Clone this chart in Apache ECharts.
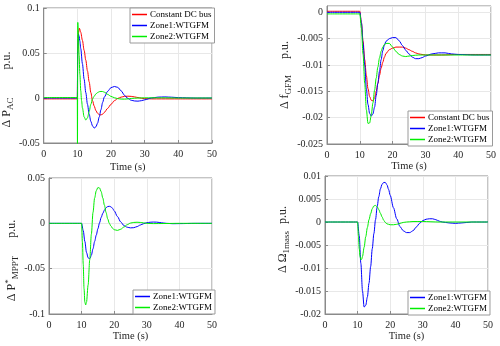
<!DOCTYPE html>
<html><head><meta charset="utf-8">
<script src="https://cdn.jsdelivr.net/npm/echarts@6/dist/echarts.min.js"></script>
<style>html,body{margin:0;padding:0;background:#fff}#c{width:500px;height:346px}</style>
</head><body><div id="c"></div>
<script>
// ---------- Data ----------
const seriesNames = ['Constant DC bus', 'Zone1:WTGFM', 'Zone2:WTGFM'];
const xTicks = [0, 10, 20, 30, 40, 50];

// Panel 1: Delta P_AC
const pacRedT = [0, 9.98, 10.1, 10.3, 10.6, 11, 11.5, 12, 12.5, 13, 13.5, 14, 14.5, 15, 15.5, 16, 16.5, 17, 17.5, 18, 19, 20, 21, 22, 23, 24, 25, 26, 27, 28, 29, 30, 32, 35, 40, 50];
const pacRedV = [-0.001, -0.001, 0.05, 0.072, 0.0775, 0.073, 0.064, 0.053, 0.042, 0.030, 0.018, 0.006, -0.003, -0.009, -0.014, -0.017, -0.0185, -0.0188, -0.018, -0.016, -0.0115, -0.007, -0.003, -0.0005, 0.001, 0.0018, 0.002, 0.0018, 0.0012, 0.0005, -0.0002, -0.0007, -0.001, -0.001, -0.001, -0.001];
const pacBlueT = [0, 9.98, 10.1, 10.3, 10.5, 10.75, 11, 11.5, 12, 12.5, 13, 13.5, 14, 14.5, 15, 15.5, 16, 16.5, 17, 17.5, 18, 19, 20, 21, 22, 23, 24, 25, 26, 27, 28, 29, 30, 32, 34, 36, 38, 40, 45, 50];
const pacBlueV = [0, 0, 0.055, 0.071, 0.069, 0.063, 0.055, 0.038, 0.021, 0.006, -0.007, -0.018, -0.026, -0.031, -0.0334, -0.032, -0.028, -0.021, -0.013, -0.005, 0.001, 0.0075, 0.0115, 0.0128, 0.0118, 0.008, 0.003, -0.0005, -0.0025, -0.0033, -0.0035, -0.003, -0.002, 0, 0.001, 0.0012, 0.0009, 0.0004, 0, 0];
const pacGreenT = [0, 9.98, 10.02, 10.12, 10.3, 10.5, 10.75, 11, 11.25, 11.5, 12, 12.5, 13, 13.5, 14, 14.5, 15, 15.5, 16, 16.5, 17, 17.5, 18, 19, 20, 21, 22, 23, 24, 25, 26, 28, 30, 35, 40, 50];
const pacGreenV = [0.0005, 0.0005, -0.06, 0.084, 0.068, 0.048, 0.026, 0.008, -0.003, -0.011, -0.021, -0.0245, -0.022, -0.015, -0.007, -0.001, 0.002, 0.0045, 0.006, 0.007, 0.0073, 0.0072, 0.0065, 0.004, 0.0018, 0.0003, -0.0007, -0.0012, -0.0013, -0.001, -0.0005, 0, 0.0002, 0.0002, 0, 0];

// Panel 2: Delta f_GFM
const fRedT = [0, 10, 10.5, 11, 11.5, 12, 12.5, 13, 13.5, 14, 14.5, 15, 15.5, 16, 16.5, 17, 17.5, 18, 19, 20, 21, 22, 23, 24, 25, 26, 27, 28, 29, 30, 32, 35, 40, 50];
const fRedV = [0.0002, 0.0002, -0.002, -0.0055, -0.009, -0.012, -0.0145, -0.016, -0.0167, -0.0168, -0.0163, -0.015, -0.0135, -0.012, -0.0106, -0.0095, -0.0085, -0.0078, -0.0071, -0.0068, -0.0066, -0.0066, -0.0066, -0.0068, -0.0071, -0.0074, -0.0077, -0.0079, -0.008, -0.0081, -0.0081, -0.0081, -0.008, -0.008];
const fBlueT = [0, 10, 10.5, 11, 11.5, 12, 12.5, 13, 13.5, 14, 14.5, 15, 15.5, 16, 16.5, 17, 17.5, 18, 19, 20, 21, 22, 23, 24, 25, 26, 27, 28, 29, 30, 32, 34, 36, 38, 40, 45, 50];
const fBlueV = [0, 0, -0.002, -0.006, -0.010, -0.0145, -0.0175, -0.0192, -0.0197, -0.0193, -0.018, -0.0158, -0.0135, -0.0112, -0.009, -0.0073, -0.0062, -0.0055, -0.005, -0.0048, -0.0048, -0.0054, -0.0063, -0.0072, -0.0079, -0.0085, -0.0088, -0.0088, -0.0086, -0.0083, -0.0079, -0.0077, -0.0077, -0.0079, -0.008, -0.0081, -0.0081];
const fGreenT = [0, 10, 10.5, 11, 11.5, 12, 12.5, 13, 13.5, 14, 14.5, 15, 15.5, 16, 16.5, 17, 17.5, 18, 19, 20, 21, 22, 23, 24, 25, 26, 28, 30, 40, 50];
const fGreenV = [-0.0003, -0.0003, -0.003, -0.008, -0.0135, -0.0185, -0.0211, -0.021, -0.0195, -0.0172, -0.0148, -0.0125, -0.0104, -0.0087, -0.0074, -0.0066, -0.0061, -0.0059, -0.0059, -0.0066, -0.0074, -0.008, -0.0083, -0.0084, -0.0083, -0.0082, -0.0081, -0.0081, -0.0081, -0.0081];

// Panel 3: Delta P*_MPPT
const mpBlueT = [0, 10, 10.5, 11, 11.5, 12, 12.3, 12.6, 13, 13.5, 14, 14.5, 15, 15.5, 16, 16.5, 17, 17.5, 18, 18.5, 19, 19.5, 20, 21, 22, 23, 24, 25, 26, 27, 28, 29, 30, 31, 32, 33, 34, 35, 36, 38, 40, 45, 50];
const mpBlueV = [0, 0, -0.008, -0.02, -0.032, -0.038, -0.039, -0.0385, -0.035, -0.028, -0.02, -0.013, -0.006, 0.0005, 0.0065, 0.011, 0.0145, 0.0172, 0.0185, 0.0188, 0.0182, 0.0165, 0.0138, 0.0075, 0.0015, -0.0025, -0.0043, -0.005, -0.0048, -0.0036, -0.0019, -0.0004, 0.0007, 0.0012, 0.0014, 0.0013, 0.0009, 0.0004, 0, -0.0004, -0.0003, 0, 0];
const mpGreenT = [0, 10, 10.25, 10.5, 10.75, 11, 11.25, 11.5, 12, 12.5, 13, 13.5, 14, 14.5, 15, 15.5, 16, 16.5, 17, 17.5, 18, 18.5, 19, 19.5, 20, 21, 22, 23, 24, 25, 26, 27, 28, 29, 30, 32, 35, 40, 50];
const mpGreenV = [0, 0, -0.02, -0.045, -0.072, -0.087, -0.09, -0.087, -0.068, -0.04, -0.012, 0.012, 0.028, 0.036, 0.0395, 0.039, 0.035, 0.028, 0.02, 0.012, 0.005, 0, -0.003, -0.0055, -0.007, -0.0078, -0.0065, -0.004, -0.0015, 0.0003, 0.001, 0.0012, 0.001, 0.0005, 0, -0.0003, -0.0002, 0, 0];

// Panel 4: Delta Omega_1mass
const omBlueT = [0, 10, 10.5, 11, 11.5, 12, 12.5, 13, 13.5, 14, 14.5, 15, 15.5, 16, 16.5, 17, 17.5, 18, 18.5, 19, 19.5, 20, 21, 22, 23, 24, 25, 26, 27, 28, 29, 30, 31, 32, 33, 34, 35, 36, 38, 40, 42, 45, 50];
const omBlueV = [0, 0, -0.003, -0.009, -0.015, -0.0185, -0.0181, -0.0163, -0.0133, -0.0097, -0.0058, -0.0025, 0.0005, 0.0033, 0.0055, 0.0072, 0.0082, 0.0086, 0.0086, 0.0081, 0.0071, 0.0058, 0.0031, 0.0007, -0.001, -0.0019, -0.0023, -0.0023, -0.0019, -0.0011, -0.0003, 0.0003, 0.0006, 0.0007, 0.0007, 0.0005, 0.0002, 0, -0.0002, -0.0003, -0.0002, 0, 0];
const omGreenT = [0, 10, 10.25, 10.5, 10.75, 11, 11.25, 11.5, 12, 12.5, 13, 13.5, 14, 14.5, 15, 15.5, 16, 16.5, 17, 17.5, 18, 18.5, 19, 20, 21, 22, 23, 24, 25, 27, 30, 35, 50];
const omGreenV = [0, 0, -0.003, -0.0058, -0.0075, -0.0082, -0.0081, -0.0075, -0.0055, -0.0032, -0.0012, 0.0005, 0.0018, 0.0029, 0.0035, 0.0036, 0.0033, 0.0027, 0.0019, 0.0011, 0.0004, -0.0001, -0.0004, -0.0006, -0.0006, -0.0005, -0.0003, -0.0001, 0, 0.0001, 0.0001, 0, 0];

// ---------- Chart ----------
const F = "'Liberation Serif','Times New Roman',serif";
const AX = '#8a8a8a';
const TXT = '#262626';
const COLORS = {red: '#ff0000', blue: '#0000ff', green: '#00ee00'};

const zip = (t, v) => t.map((x, i) => [x, v[i]]);
const fmt = v => String(parseFloat(v.toFixed(4)));

const grids = [
  {left: 43, top: 8, width: 169, height: 135},
  {left: 327, top: 6, width: 164, height: 138},
  {left: 49, top: 178, width: 163, height: 136},
  {left: 325, top: 176, width: 163, height: 138}
].map(g => Object.assign({show: true, borderColor: AX, borderWidth: 1, containLabel: false}, g));

function xAx(i, gap) {
  return {
    type: 'value', gridIndex: i, min: xTicks[0], max: xTicks[xTicks.length - 1], interval: 10,
    name: 'Time (s)', nameLocation: 'middle', nameGap: gap,
    nameTextStyle: {fontFamily: F, fontSize: 10.5, color: TXT},
    axisLine: {show: true, onZero: false, lineStyle: {color: AX}},
    axisTick: {show: true, inside: true, length: 3, lineStyle: {color: AX}},
    axisLabel: {fontFamily: F, fontSize: 10, color: TXT, margin: 6},
    splitLine: {show: true, lineStyle: {color: '#e8e8e8', width: 1}}
  };
}
function rich(gapW, beginW, endW) {
  return {
    m: {fontFamily: F, fontSize: 12, lineHeight: 16, color: TXT},
    s: {fontFamily: F, fontSize: 9, lineHeight: 8, verticalAlign: 'bottom', color: TXT},
    p: {fontFamily: F, fontSize: 9, lineHeight: 8, verticalAlign: 'top', color: TXT},
    g: {fontSize: 12, lineHeight: 16, width: gapW},
    b: {fontSize: 12, lineHeight: 16, width: beginW},
    e: {fontSize: 12, lineHeight: 16, width: endW}
  };
}
function yAx(i, min, max, interval, name, gap, r, hideMax) {
  return {
    type: 'value', gridIndex: i, min: min, max: max, interval: interval,
    name: name, nameLocation: 'middle', nameGap: gap, nameRotate: 90,
    nameTextStyle: {rich: r},
    axisLine: {show: true, onZero: false, lineStyle: {color: AX}},
    axisTick: {show: true, inside: true, length: 3, lineStyle: {color: AX}},
    axisLabel: {fontFamily: F, fontSize: 10, color: TXT, margin: 4, formatter: fmt, showMaxLabel: !hideMax},
    splitLine: {show: true, lineStyle: {color: '#e8e8e8', width: 1}}
  };
}

function line(i, name, color, t, v) {
  return {
    type: 'line', name: name, xAxisIndex: i, yAxisIndex: i, data: zip(t, v),
    symbol: 'none', smooth: 0.3, smoothMonotone: 'x', clip: true,
    lineStyle: {color: color, width: 1}, itemStyle: {color: color}
  };
}
function legend(names, left, top) {
  return {
    data: names, orient: 'vertical', left: left, top: top, icon: 'rect',
    itemWidth: 15, itemHeight: 1.5, itemGap: 2, padding: [2, 3, 2, 2],
    backgroundColor: '#fff', borderColor: '#9a9a9a', borderWidth: 1, borderRadius: 0,
    textStyle: {fontFamily: F, fontSize: 9, lineHeight: 9, color: '#000', padding: [0, 0, 0, -2]},
    selectedMode: false
  };
}

const option = {
  animation: false,
  backgroundColor: '#fff',
  grid: grids,
  xAxis: [xAx(0, 19), xAx(1, 16), xAx(2, 17), xAx(3, 17)],
  yAxis: [
    yAx(0, -0.05, 0.1, 0.05, '{m|Δ P}{s|AC}{g| }{m|p.u.}{e| }', 23, rich(28, 1, 28), false),
    yAx(1, -0.025, 0.0012, 0.005, '{m|Δ f}{s|GFM}{g| }{m|p.u.}', 24, rich(16, 1, 1), true),
    yAx(2, -0.1, 0.05, 0.05, '{m|Δ P}{p|*}{s|MPPT}{g| }{m|p.u.}{e| }', 28, rich(18, 1, 29), false),
    yAx(3, -0.02, 0.01, 0.005, '{b| }{m|Δ Ω}{s|1mass}{g| }{m|p.u.}', 32, rich(7, 11, 1), false)
  ],
  legend: [
    legend(seriesNames, 130, 8),
    legend(seriesNames, 408, 111),
    legend(seriesNames.slice(1), 133, 290),
    legend(seriesNames.slice(1), 408, 291)
  ],
  series: [
    line(0, seriesNames[0], COLORS.red, pacRedT, pacRedV),
    line(0, seriesNames[1], COLORS.blue, pacBlueT, pacBlueV),
    line(0, seriesNames[2], COLORS.green, pacGreenT, pacGreenV),
    line(1, seriesNames[0], COLORS.red, fRedT, fRedV),
    line(1, seriesNames[1], COLORS.blue, fBlueT, fBlueV),
    line(1, seriesNames[2], COLORS.green, fGreenT, fGreenV),
    line(2, seriesNames[1], COLORS.blue, mpBlueT, mpBlueV),
    line(2, seriesNames[2], COLORS.green, mpGreenT, mpGreenV),
    line(3, seriesNames[1], COLORS.blue, omBlueT, omBlueV),
    line(3, seriesNames[2], COLORS.green, omGreenT, omGreenV)
  ]
};
const chart = echarts.init(document.getElementById('c'), null, {renderer: 'canvas'});
chart.setOption(option);
</script></body></html>
